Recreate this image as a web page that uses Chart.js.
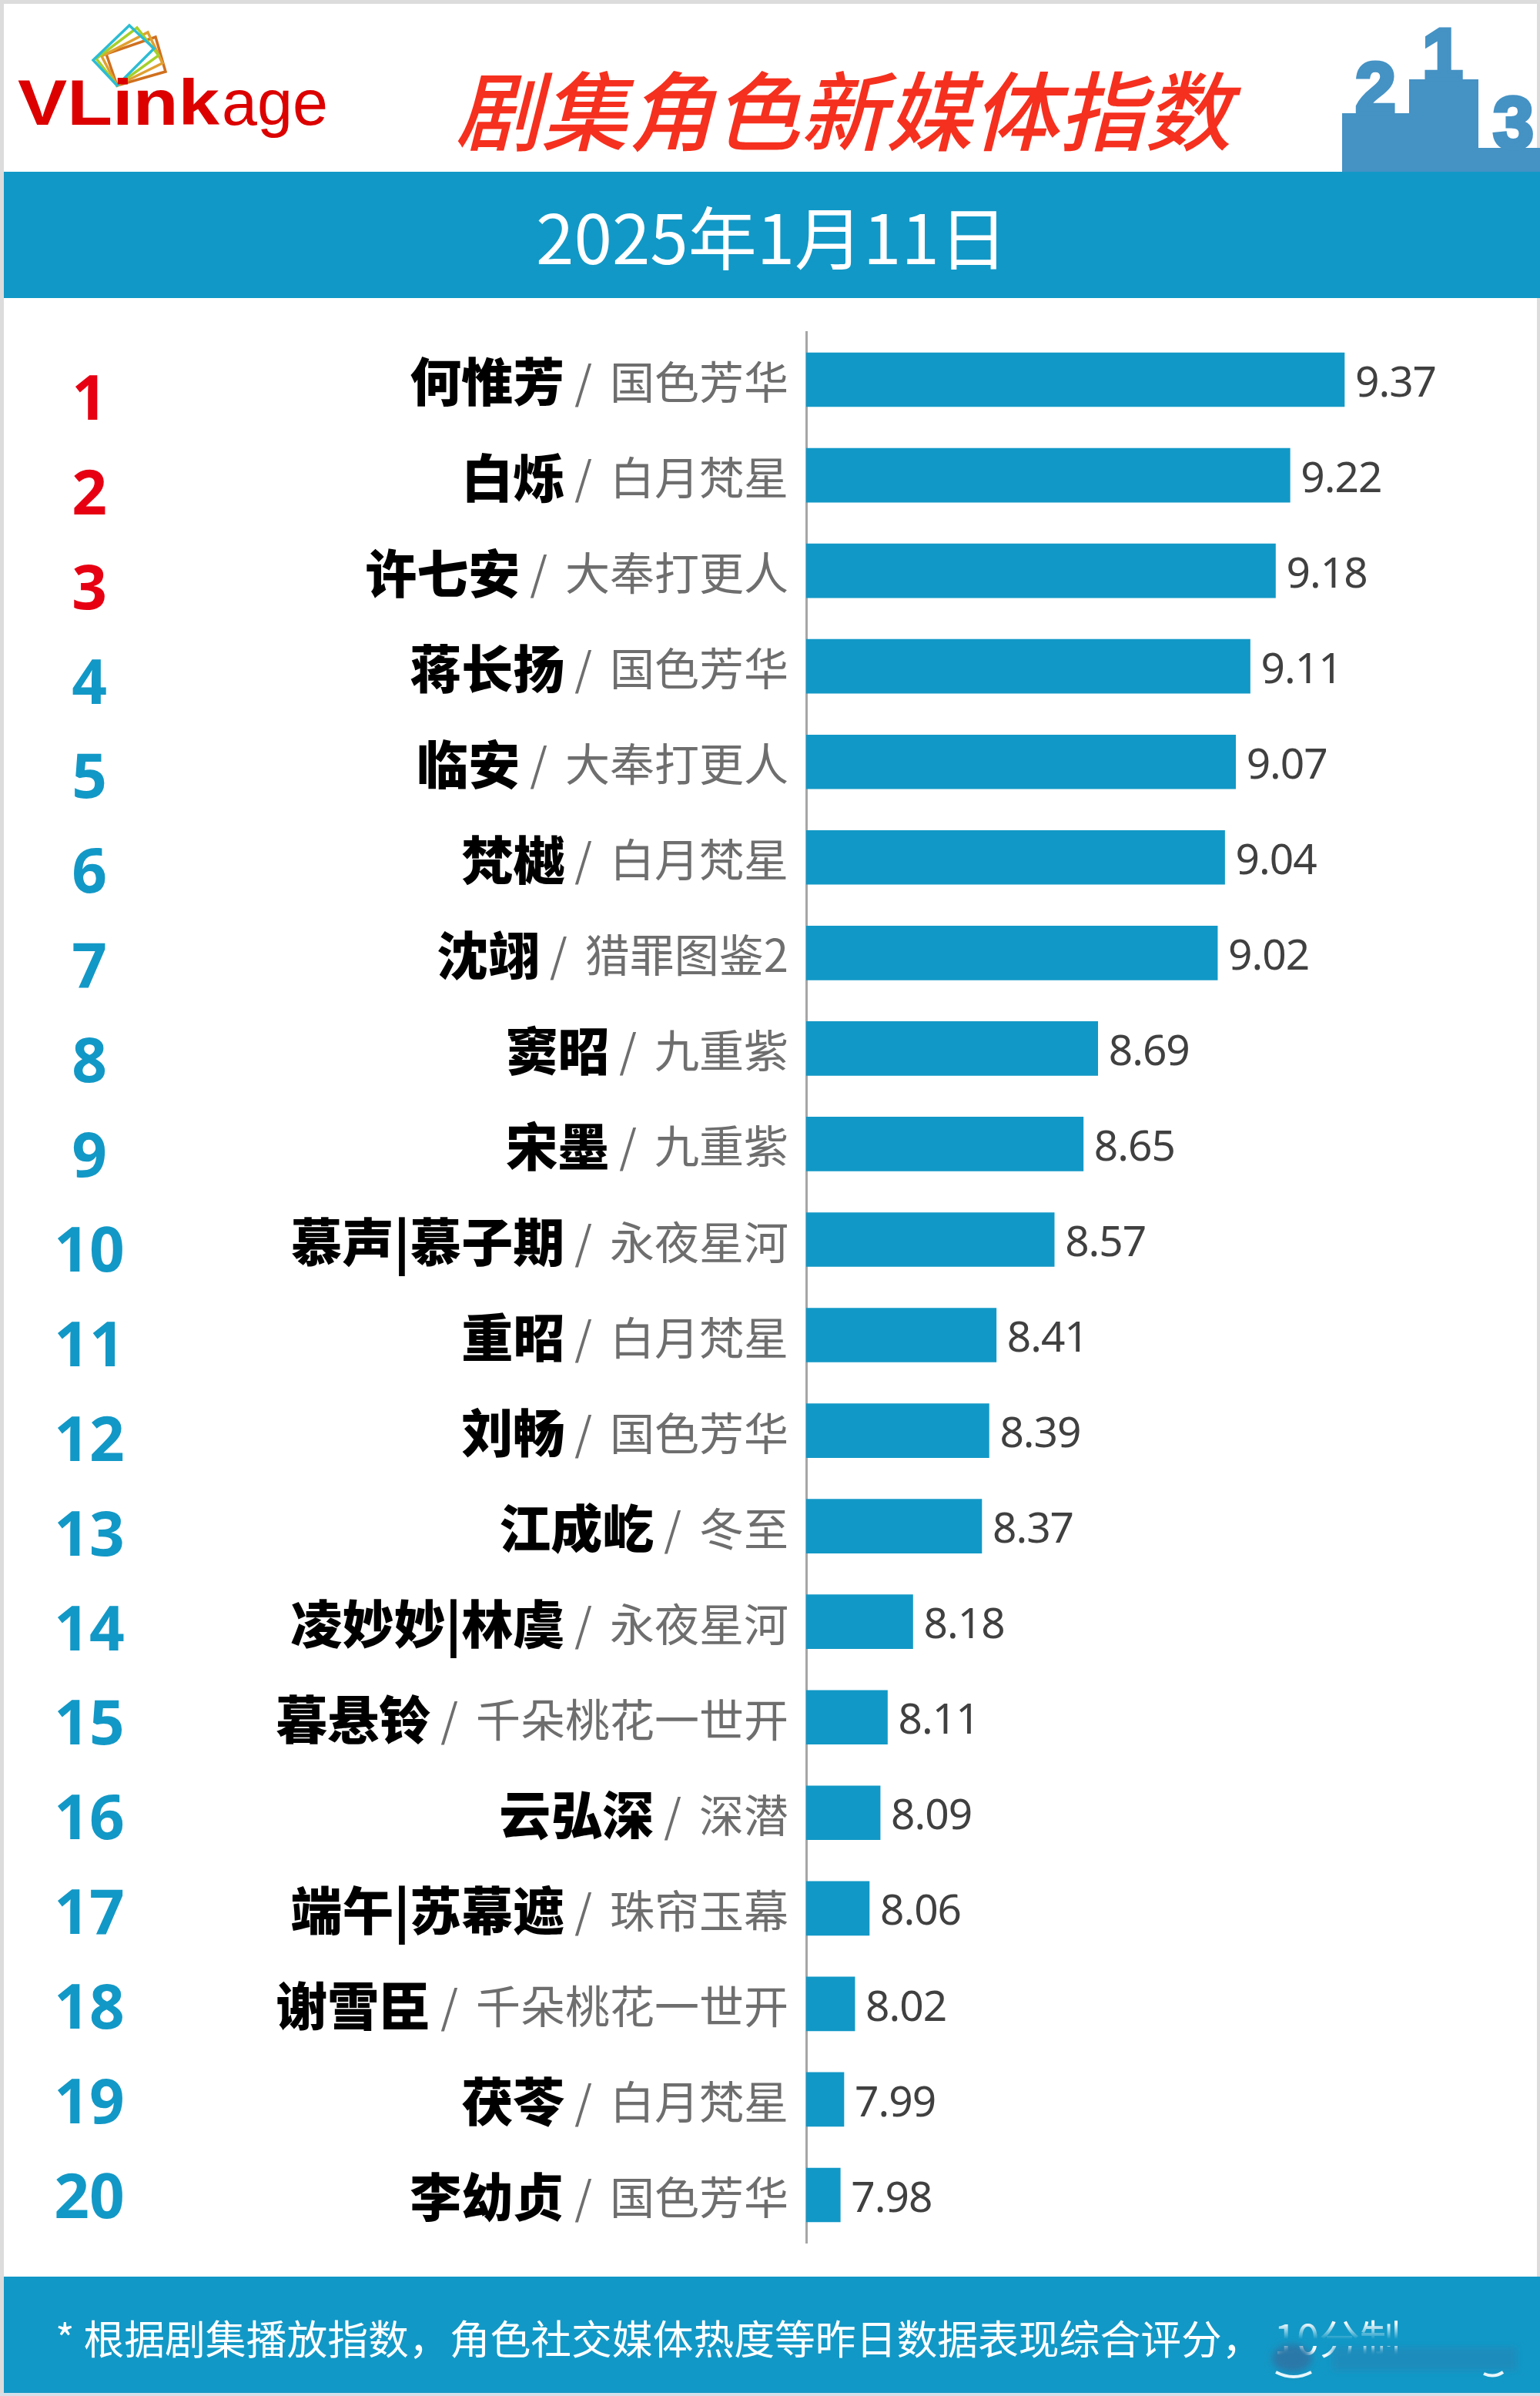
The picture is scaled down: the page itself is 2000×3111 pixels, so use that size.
<!DOCTYPE html>
<html lang="zh">
<head>
<meta charset="utf-8">
<title>剧集角色新媒体指数</title>
<script src="https://cdn.jsdelivr.net/npm/chart.js@4"></script>
<style>
  html, body { margin:0; padding:0; background:#fff; }
  #page { position:relative; width:2000px; height:3111px; overflow:hidden; background:#fff; font-family:"Noto Sans CJK SC",sans-serif; }
  #page > * { position:absolute; }
  #edge-top { left:0; top:0; width:2000px; height:5px; background:#dcdcdc; }
  #edge-left { left:0; top:0; width:5px; height:3111px; background:#dcdcdc; }
  #edge-right { left:1996px; top:0; width:4px; height:3111px; background:#dcdcdc; }
  #edge-bottom { left:0; top:3107px; width:2000px; height:4px; background:#d6dfe8; }
  #chart { left:0; top:0; }
  #band-date { left:5px; top:223px; width:1995px; height:164px; background:#1298c6; color:#fff; font-size:89px; line-height:164px; text-align:center; }
  #band-foot { left:5px; top:2956px; width:1995px; height:151px; background:#1298c6; }
  #foot-text { left:72px; top:2996px; font-size:52.8px; line-height:76px; color:#fff; white-space:nowrap; }
  #foot-ten { margin-left:15px; }
  #foot-cover { left:1640px; top:3016px; width:340px; height:30px; background:linear-gradient(to bottom, rgba(18,152,198,0), #1298c6 70%); }
  #title { left:591px; top:73px; font-size:112px; line-height:130px; font-style:italic; font-weight:500; color:#f5301e; white-space:nowrap; }
  svg { overflow:visible; }
</style>
</head>
<body>
<div id="page">
  <div id="edge-top"></div>
  <div id="edge-left"></div>
  <div id="edge-right"></div>
  <div id="edge-bottom"></div>
  <canvas id="chart" width="2000" height="3111"></canvas>
  <svg style="left:0;top:0" width="450" height="190" fill="none" stroke-width="3.5" stroke-linejoin="miter">
    <path d="M202 48 L215 93 L152 111 L138 70 Z" stroke="#d0701e"/>
    <path d="M192 42 L211 82 L152 111 L132 73 Z" stroke="#e0a030"/>
    <path d="M178 36 L206 72 L152 111 L125 76 Z" stroke="#a6d02a"/>
    <path d="M168 33 L200 63 L152 111 L121 78 Z" stroke="#2cbcd4"/>
    <text x="23" y="162" textLength="262" lengthAdjust="spacingAndGlyphs" font-family="Liberation Sans" font-weight="bold" font-size="84" fill="#dc0000" stroke="none">VLink</text>
    <text x="288" y="162" textLength="138" lengthAdjust="spacingAndGlyphs" font-family="Liberation Sans" font-size="84" fill="#dc0000" stroke="none">age</text>
  </svg>
  <div id="title">剧集角色新媒体指数</div>
  <svg style="left:1743px;top:0" width="257" height="223" fill="#4592c4" font-family="Liberation Sans" font-weight="bold" font-size="95">
    <path d="M0 147 H87 V103 H177 V192 H257 V223 H0 Z"/>
    <text x="17" y="147" stroke="#4592c4" stroke-width="5">2</text>
    <text x="104" y="103" stroke="#4592c4" stroke-width="5">1</text>
    <text x="196" y="192" stroke="#4592c4" stroke-width="5">3</text>
  </svg>
  <div id="band-date">2025年1月11日</div>
  <div id="band-foot"></div>
  <div id="foot-text">* 根据剧集播放指数，角色社交媒体热度等昨日数据表现综合评分，<span id="foot-ten">10分制</span></div>
  <div id="foot-cover"></div>
  <svg style="left:1640px;top:3020px" width="350" height="80" fill="none">
    <defs><filter id="soft" x="-30%" y="-30%" width="160%" height="160%"><feGaussianBlur stdDeviation="5"/></filter></defs>
    <ellipse cx="38" cy="42" rx="26" ry="18" fill="#2a78a8" filter="url(#soft)"/>
    <rect x="90" y="28" width="240" height="30" fill="#1a8cbc" filter="url(#soft)"/>
    <path d="M17 60 Q40 72 63 60" stroke="#e8f6fb" stroke-width="4"/>
    <path d="M287 62 Q300 68 312 60" stroke="#e8f6fb" stroke-width="4"/>
  </svg>
</div>
<script>
/* data */
const NAMES = ['何惟芳','白烁','许七安','蒋长扬','临安','梵樾','沈翊','窦昭','宋墨','慕声|慕子期','重昭','刘畅','江成屹','凌妙妙|林虞','暮悬铃','云弘深','端午|苏幕遮','谢雪臣','茯苓','李幼贞'];
const DRAMAS = ['国色芳华','白月梵星','大奉打更人','国色芳华','大奉打更人','白月梵星','猎罪图鉴2','九重紫','九重紫','永夜星河','白月梵星','国色芳华','冬至','永夜星河','千朵桃花一世开','深潜','珠帘玉幕','千朵桃花一世开','白月梵星','国色芳华'];
const VALUES = [9.37,9.22,9.18,9.11,9.07,9.04,9.02,8.69,8.65,8.57,8.41,8.39,8.37,8.18,8.11,8.09,8.06,8.02,7.99,7.98];
const X_MIN = 7.886;
const X_MAX = 9.886;

/* labels drawn next to the bars */
const BLUE = '#1298c6';
const RED = '#e60012';

const rowLabels = {
  id: 'rowLabels',
  afterDatasetsDraw(chart) {
    const { ctx, chartArea } = chart;
    const meta = chart.getDatasetMeta(0);
    ctx.save();
    ctx.textBaseline = 'middle';
    VALUES.forEach((v, i) => {
      const bar = meta.data[i];
      const y = bar.y;

      // value
      ctx.textAlign = 'left';
      ctx.font = '55px "Noto Sans"';
      ctx.letterSpacing = '-1px';
      ctx.fillStyle = '#404040';
      ctx.fillText(v.toFixed(2), bar.x + 14, y + 6);
      ctx.letterSpacing = '0px';

      // drama, right aligned against the axis
      const right = chartArea.left - 23;
      ctx.textAlign = 'right';
      ctx.font = '58px "Noto Sans CJK SC"';
      ctx.fillStyle = '#6e6e6e';
      ctx.fillText(DRAMAS[i], right, y + 3);
      const dramaW = ctx.measureText(DRAMAS[i]).width;

      // slash has a wider gap than a plain space
      const slashRight = right - dramaW - 23;
      ctx.fillText('/', slashRight, y + 3);
      const slashW = ctx.measureText('/').width;

      // character name
      ctx.font = '900 67px "Noto Sans CJK SC"';
      ctx.fillStyle = '#000';
      ctx.fillText(NAMES[i], slashRight - slashW - 13, y + 3);

      // rank, its spacing is a bit tighter than the bars
      ctx.textAlign = 'center';
      ctx.font = 'bold 80px "Open Sans"';
      ctx.fillStyle = i < 3 ? RED : BLUE;
      ctx.fillText(String(i + 1), 116, y + 29 - i * 1.15);
    });
    ctx.restore();
  }
};

new Chart(document.getElementById('chart'), {
  type: 'bar',
  data: {
    labels: NAMES,
    datasets: [{
      data: VALUES,
      backgroundColor: BLUE,
      barThickness: 70,
      borderSkipped: false,
    }]
  },
  options: {
    indexAxis: 'y',
    responsive: false,
    animation: false,
    devicePixelRatio: 1,
    layout: { padding: { left: 1047, right: 11, top: 431, bottom: 199 } },
    plugins: { legend: { display: false }, tooltip: { enabled: false } },
    scales: {
      x: { min: X_MIN, max: X_MAX, display: false },
      y: {
        afterFit(axis) { axis.width = 0; },
        ticks: { display: false },
        grid: { display: false },
        border: { display: true, color: '#a6a6a6', width: 3 },
      }
    }
  },
  plugins: [rowLabels]
});
</script>
</body>
</html>
